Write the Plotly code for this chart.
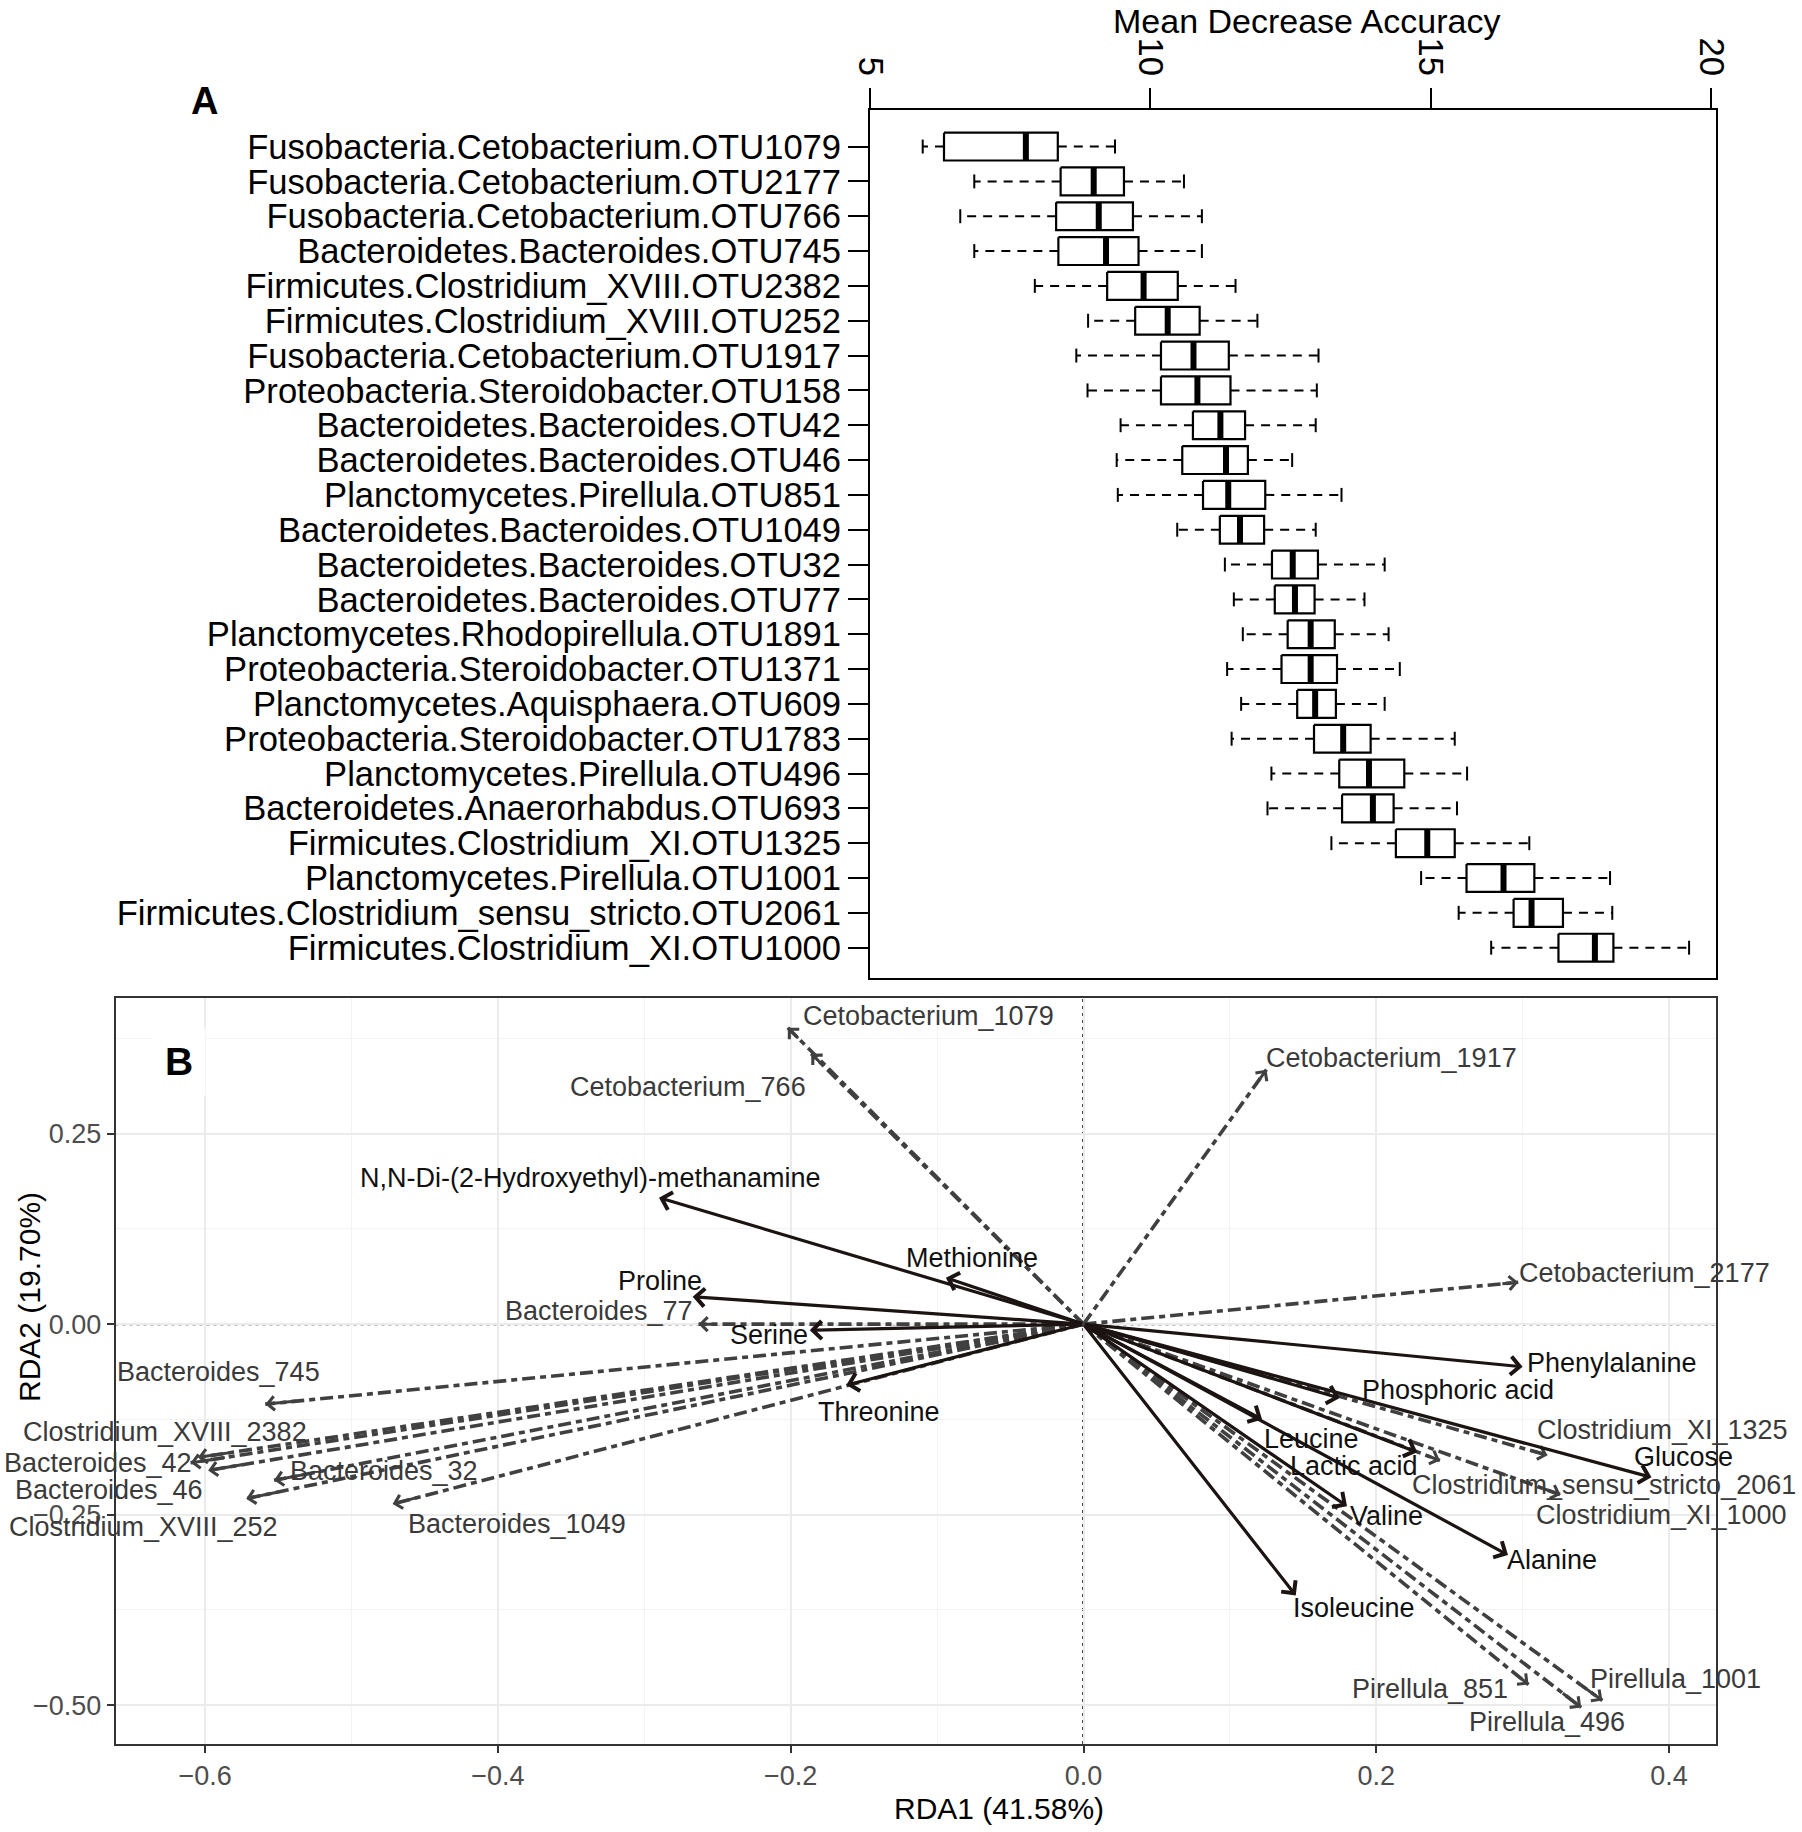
import plotly.graph_objects as go

# ---------------- Panel A data (Mean Decrease Accuracy boxplots) ----------------
otu_labels = [
    "Fusobacteria.Cetobacterium.OTU1079",
    "Fusobacteria.Cetobacterium.OTU2177",
    "Fusobacteria.Cetobacterium.OTU766",
    "Bacteroidetes.Bacteroides.OTU745",
    "Firmicutes.Clostridium_XVIII.OTU2382",
    "Firmicutes.Clostridium_XVIII.OTU252",
    "Fusobacteria.Cetobacterium.OTU1917",
    "Proteobacteria.Steroidobacter.OTU158",
    "Bacteroidetes.Bacteroides.OTU42",
    "Bacteroidetes.Bacteroides.OTU46",
    "Planctomycetes.Pirellula.OTU851",
    "Bacteroidetes.Bacteroides.OTU1049",
    "Bacteroidetes.Bacteroides.OTU32",
    "Bacteroidetes.Bacteroides.OTU77",
    "Planctomycetes.Rhodopirellula.OTU1891",
    "Proteobacteria.Steroidobacter.OTU1371",
    "Planctomycetes.Aquisphaera.OTU609",
    "Proteobacteria.Steroidobacter.OTU1783",
    "Planctomycetes.Pirellula.OTU496",
    "Bacteroidetes.Anaerorhabdus.OTU693",
    "Firmicutes.Clostridium_XI.OTU1325",
    "Planctomycetes.Pirellula.OTU1001",
    "Firmicutes.Clostridium_sensu_stricto.OTU2061",
    "Firmicutes.Clostridium_XI.OTU1000",
]
whisker_low = [5.94, 6.86, 6.61, 6.86, 7.94, 8.89, 8.68, 8.88, 9.47, 9.40, 9.42, 10.48,
               11.33, 11.49, 11.65, 11.37, 11.62, 11.45, 12.16, 12.09, 13.23, 14.83, 15.50, 16.08]
q1 = [6.32, 8.40, 8.32, 8.36, 9.23, 9.73, 10.19, 10.19, 10.76, 10.57, 10.94, 11.24,
      12.17, 12.22, 12.45, 12.34, 12.62, 12.92, 13.37, 13.42, 14.38, 15.64, 16.48, 17.28]
median = [7.78, 8.99, 9.08, 9.21, 9.88, 10.31, 10.77, 10.84, 11.25, 11.35, 11.39, 11.60,
          12.54, 12.58, 12.86, 12.86, 12.94, 13.44, 13.90, 13.97, 14.94, 16.30, 16.80, 17.93]
q3 = [8.35, 9.53, 9.69, 9.79, 10.49, 10.88, 11.40, 11.43, 11.69, 11.74, 12.05, 12.03,
      12.99, 12.93, 13.29, 13.33, 13.31, 13.93, 14.53, 14.34, 15.43, 16.85, 17.36, 18.26]
whisker_high = [9.37, 10.60, 10.92, 10.92, 11.52, 11.91, 13.00, 12.97, 12.95, 12.53, 13.41, 12.95,
                14.18, 13.82, 14.25, 14.45, 14.18, 15.43, 15.65, 15.47, 16.76, 18.20, 18.24, 19.61]
a_ticks = [5, 10, 15, 20]

# ---------------- Panel B data (RDA biplot) ----------------
species_names = [
    "Cetobacterium_1079", "Cetobacterium_766", "Cetobacterium_1917", "Cetobacterium_2177",
    "Bacteroides_77", "Bacteroides_745", "Clostridium_XVIII_2382", "Bacteroides_42",
    "Bacteroides_46", "Clostridium_XVIII_252", "Bacteroides_32", "Bacteroides_1049",
    "Clostridium_XI_1325", "Clostridium_sensu_stricto_2061", "Clostridium_XI_1000",
    "Pirellula_851", "Pirellula_496", "Pirellula_1001",
]
species_rda1 = [-0.202, -0.186, 0.125, 0.297, -0.263, -0.559, -0.605, -0.610, -0.598, -0.572,
                -0.553, -0.472, 0.317, 0.2435, 0.326, 0.304, 0.340, 0.3545]
species_rda2 = [0.389, 0.355, 0.334, 0.055, 0.000, -0.105, -0.175, -0.182, -0.192, -0.229,
                -0.205, -0.236, -0.172, -0.179, -0.224, -0.473, -0.503, -0.494]
# label anchor points (centre of text, except where noted in species_label_anchor)
species_label_x = [-0.106, -0.270, 0.2105, 0.383, -0.331, -0.591, -0.6276, -0.6077, -0.6005, -0.642,
                   -0.4777, -0.387, 0.3955, 0.3557, 0.3947, 0.2368, 0.3166, 0.4043]
species_label_y = [0.404, 0.311, 0.349, 0.067, 0.017, -0.063, -0.141, -0.182, -0.2175, -0.2665,
                   -0.193, -0.262, -0.139, -0.211, -0.251, -0.479, -0.522, -0.4655]
species_label_anchor = ["center", "center", "center", "center", "center", "center", "center",
                        "right", "right", "center", "center", "center", "center", "center",
                        "center", "center", "center", "center"]

metab_names = [
    "N,N-Di-(2-Hydroxyethyl)-methanamine", "Methionine", "Proline", "Serine", "Threonine",
    "Phenylalanine", "Phosphoric acid", "Glucose", "Leucine", "Lactic acid", "Valine",
    "Alanine", "Isoleucine",
]
metab_rda1 = [-0.290, -0.094, -0.267, -0.187, -0.162, 0.300, 0.175, 0.388, 0.122, 0.228, 0.180, 0.290, 0.145]
metab_rda2 = [0.166, 0.061, 0.036, -0.008, -0.080, -0.056, -0.097, -0.201, -0.125, -0.168, -0.239, -0.303, -0.356]
metab_label_x = [-0.3365, -0.076, -0.289, -0.215, -0.140, 0.361, 0.256, 0.410, 0.156, 0.185, 0.207, 0.320, 0.185]
metab_label_y = [0.192, 0.087, 0.057, -0.014, -0.115, -0.051, -0.086, -0.1745, -0.151, -0.186, -0.252, -0.310, -0.373]

rda1_title = "RDA1 (41.58%)"
rda2_title = "RDA2 (19.70%)"

# ---------------- styling ----------------
W, H = 1802, 1832
FONT = "Liberation Sans, Arial, sans-serif"
SP_COL = "#404040"
MET_COL = "#1c1412"

def px(v):
    return v / W

def py(v):
    return 1 - v / H

fig = go.Figure()

# ---- Panel A: boxes built from the stats arrays ----
pos = list(range(1, len(otu_labels) + 1))
half = 0.4
cap = 0.2
bx, by, mx, my, cx, cy = [], [], [], [], [], []
for i, p in enumerate(pos):
    bx += [q1[i], q3[i], q3[i], q1[i], q1[i], None]
    by += [p - half, p - half, p + half, p + half, p - half, None]
    mx += [median[i], median[i], None]
    my += [p - half, p + half, None]
    cx += [whisker_low[i], whisker_low[i], None, whisker_high[i], whisker_high[i], None]
    cy += [p - cap, p + cap, None, p - cap, p + cap, None]

for i, p in enumerate(pos):
    for a, b in ((q1[i], whisker_low[i]), (q3[i], whisker_high[i])):
        fig.add_trace(go.Scatter(x=[a, b], y=[p, p], mode="lines", xaxis="x", yaxis="y",
                                 line=dict(color="black", width=2, dash="9px,7px"),
                                 hoverinfo="skip", showlegend=False))
fig.add_trace(go.Scatter(x=cx, y=cy, mode="lines", xaxis="x", yaxis="y",
                         line=dict(color="black", width=2), hoverinfo="skip", showlegend=False))
fig.add_trace(go.Scatter(x=bx, y=by, mode="lines", xaxis="x", yaxis="y", fill="toself",
                         fillcolor="white", line=dict(color="black", width=2.2),
                         hoverinfo="skip", showlegend=False))
fig.add_trace(go.Scatter(x=mx, y=my, mode="lines", xaxis="x", yaxis="y",
                         line=dict(color="black", width=6), hoverinfo="skip", showlegend=False))

# ---- Panel B: species vectors (dash-dot lines) ----
for i, name in enumerate(species_names):
    fig.add_trace(go.Scatter(x=[0, species_rda1[i]], y=[0, species_rda2[i]], mode="lines",
                             xaxis="x2", yaxis="y2",
                             line=dict(color=SP_COL, width=3.6, dash="13px,5px,6px,5px"),
                             hoverinfo="skip", showlegend=False))

annotations = []
# species arrow heads
for i, name in enumerate(species_names):
    annotations.append(dict(x=species_rda1[i], y=species_rda2[i], xref="x2", yref="y2",
                            ax=species_rda1[i] * 0.96, ay=species_rda2[i] * 0.96,
                            axref="x2", ayref="y2", text="", showarrow=True,
                            arrowhead=4, arrowsize=0.9, arrowwidth=3, arrowcolor=SP_COL,
                            standoff=0))
# metabolite arrows
for i, name in enumerate(metab_names):
    annotations.append(dict(x=metab_rda1[i], y=metab_rda2[i], xref="x2", yref="y2",
                            ax=0, ay=0, axref="x2", ayref="y2", text="", showarrow=True,
                            arrowhead=4, arrowsize=1.1, arrowwidth=3.2, arrowcolor=MET_COL,
                            standoff=0))
# labels
for i, name in enumerate(species_names):
    annotations.append(dict(x=species_label_x[i], y=species_label_y[i], xref="x2", yref="y2",
                            text=name, showarrow=False, xanchor=species_label_anchor[i],
                            yanchor="middle",
                            font=dict(family=FONT, size=27, color="#3a3a3a")))
for i, name in enumerate(metab_names):
    annotations.append(dict(x=metab_label_x[i], y=metab_label_y[i], xref="x2", yref="y2",
                            text=name, showarrow=False, xanchor="center", yanchor="middle",
                            font=dict(family=FONT, size=27, color="#111111")))

# panel letters and titles
annotations += [
    dict(x=px(204), y=py(101), xref="paper", yref="paper", text="<b>A</b>", showarrow=False,
         xanchor="center", yanchor="middle", font=dict(family=FONT, size=38, color="black")),
    dict(x=px(179), y=py(1061), xref="paper", yref="paper", text="<b>B</b>", showarrow=False,
         xanchor="center", yanchor="middle", bgcolor="white", borderpad=12,
         font=dict(family=FONT, size=39, color="black")),
    dict(x=px(1306), y=py(21), xref="paper", yref="paper", text="Mean Decrease Accuracy",
         showarrow=False, xanchor="center", yanchor="middle",
         font=dict(family=FONT, size=34, color="black")),
    dict(x=px(999), y=py(1808), xref="paper", yref="paper", text=rda1_title,
         showarrow=False, xanchor="center", yanchor="middle",
         font=dict(family=FONT, size=30, color="black")),
    dict(x=px(29), y=py(1297), xref="paper", yref="paper", text=rda2_title, textangle=-90,
         showarrow=False, xanchor="center", yanchor="middle",
         font=dict(family=FONT, size=30, color="black")),
]

shapes = [
    dict(type="line", xref="x2", yref="y2 domain", x0=0, x1=0, y0=0, y1=1,
         line=dict(color="black", width=2.4, dash="3px,4px"), layer="below"),
    dict(type="line", xref="x2 domain", yref="y2", x0=0, x1=1, y0=0, y1=0,
         line=dict(color="black", width=2.4, dash="3px,4px"), layer="below"),
]

fig.update_layout(
    width=W, height=H,
    margin=dict(l=0, r=0, t=0, b=0),
    paper_bgcolor="white", plot_bgcolor="white",
    showlegend=False,
    font=dict(family=FONT, color="black"),
    annotations=annotations,
    shapes=shapes,
    xaxis=dict(
        domain=[px(870), px(1716)], anchor="y", side="top",
        range=[5, 20.09], tickvals=a_ticks, ticktext=[str(t) for t in a_ticks],
        tickangle=90, ticks="outside", ticklen=20, tickwidth=2, tickcolor="black",
        showline=True, linecolor="black", linewidth=2, mirror=True,
        showgrid=False, zeroline=False, automargin=False,
        tickfont=dict(family=FONT, size=34.6, color="black"),
    ),
    yaxis=dict(
        domain=[py(978), py(110)], anchor="x",
        range=[24.87, -0.05], tickvals=pos, ticktext=otu_labels,
        ticks="outside", ticklen=20, tickwidth=2, tickcolor="black",
        showline=True, linecolor="black", linewidth=2, mirror=True,
        showgrid=False, zeroline=False, automargin=False,
        tickfont=dict(family=FONT, size=34.6, color="black"),
    ),
    xaxis2=dict(
        domain=[px(115.5), px(1716)], anchor="y2",
        range=[-0.6613, 0.4321], tick0=0, dtick=0.2, tickformat=".1f",
        ticks="outside", ticklen=7, tickwidth=1.5, tickcolor="#333333",
        showline=True, linecolor="#333333", linewidth=1.6, mirror=True,
        showgrid=True, gridcolor="#ebebeb", gridwidth=1.5,
        minor=dict(dtick=0.1, showgrid=True, gridcolor="#f3f3f3", gridwidth=1),
        zeroline=False, automargin=False,
        tickfont=dict(family=FONT, size=27, color="#4d4d4d"),
    ),
    yaxis2=dict(
        domain=[py(1744), py(998)], anchor="x2",
        range=[-0.551, 0.428], tick0=0, dtick=0.25, tickformat=".2f",
        ticks="outside", ticklen=7, tickwidth=1.5, tickcolor="#333333",
        showline=True, linecolor="#333333", linewidth=1.6, mirror=True,
        showgrid=True, gridcolor="#ebebeb", gridwidth=1.5,
        minor=dict(dtick=0.125, showgrid=True, gridcolor="#f3f3f3", gridwidth=1),
        zeroline=False, automargin=False,
        tickfont=dict(family=FONT, size=27, color="#4d4d4d"),
    ),
)

fig.write_html("out.html", config={"displayModeBar": False},
               post_script="document.body.style.margin='0';document.body.style.overflow='hidden';")
